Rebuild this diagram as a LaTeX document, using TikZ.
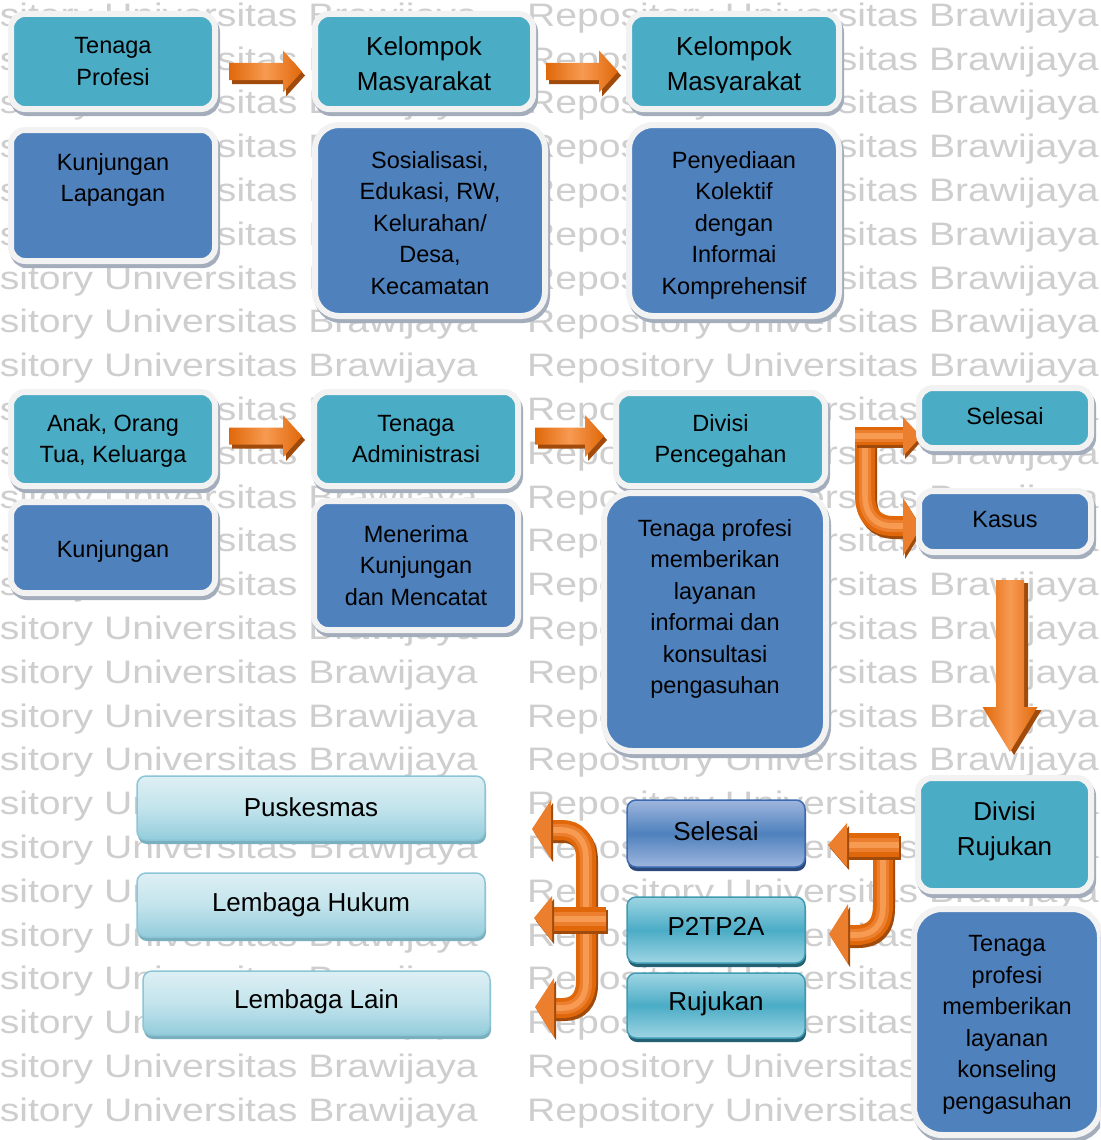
\documentclass[tikz,border=0pt]{standalone}
\usepackage{fontspec}
\setmainfont{Liberation Sans}
\newfontfamily\wmfont[FakeStretch=1.203]{Liberation Sans}
\usetikzlibrary{shadows}
\pgfdeclarelayer{wmlayer}
\pgfdeclarelayer{arrlayer}
\pgfsetlayers{wmlayer,arrlayer,main}
\definecolor{cTeal}{HTML}{4BACC6}
\definecolor{cBlue}{HTML}{4F81BD}
\definecolor{cFrame}{HTML}{F2F2F2}
\definecolor{cFS}{HTML}{A4ADBB}
\definecolor{cOD}{HTML}{E0680A}
\definecolor{cOM}{HTML}{EC7F2E}
\definecolor{cOL}{HTML}{F79A52}
\definecolor{cOS}{HTML}{A04B0B}
\definecolor{cWM}{HTML}{CECECE}
\definecolor{gTealB}{HTML}{3F9AB3}
\definecolor{gTealT}{HTML}{9ED5E3}
\definecolor{gTealS}{HTML}{245F72}
\definecolor{gBlueB}{HTML}{3C6AAE}
\definecolor{gBlueT}{HTML}{9EB6DE}
\definecolor{gBlueS}{HTML}{2A4779}
\definecolor{gLiB}{HTML}{8CC6D6}
\definecolor{gLiT}{HTML}{DDEFF4}
\definecolor{gLiM}{HTML}{C3E4EC}
\definecolor{gLiD}{HTML}{93CCDB}
\definecolor{gLiS}{HTML}{7AAFBF}
\tikzset{
  wmtext/.style={font=\wmfont\fontsize{32.5}{39}\selectfont, text=cWM, inner sep=0pt},
  fbox/.style={draw=cFrame, line width=6pt, inner sep=0pt, align=center,
    font=\fontsize{23.5}{31.5}\selectfont, rounded corners=14pt,
    drop shadow={shadow xshift=2pt, shadow yshift=-4pt, fill=cFS, draw=cFS, line width=6pt, opacity=1}},
  tealbox/.style={fbox, fill=cTeal},
  bluebox/.style={fbox, fill=cBlue},
  bigfont/.style={font=\fontsize{26}{35}\selectfont},
  txt/.style={inner sep=0pt, align=center, font=\fontsize{23.5}{31.5}\selectfont},
  gbox/.style={rounded corners=9pt, line width=1.5pt, inner sep=0pt, align=center,
    font=\fontsize{26}{35}\selectfont},
  gteal/.style={gbox, draw=gTealB, top color=gTealT, bottom color=gTealT, middle color=cTeal,
    drop shadow={shadow xshift=1pt, shadow yshift=-4pt, fill=gTealS, opacity=1}},
  gblue/.style={gbox, draw=gBlueB, top color=gBlueT, bottom color=gBlueT, middle color=cBlue,
    drop shadow={shadow xshift=1pt, shadow yshift=-4pt, fill=gBlueS, opacity=1}},
  glight/.style={gbox, draw=gLiB, top color=gLiT, bottom color=gLiD, middle color=gLiM,
    drop shadow={shadow xshift=1pt, shadow yshift=-4pt, fill=gLiS, opacity=1}},
  ashade/.style={left color=cOD, right color=cOD, middle color=cOL},
  bshadow/.style={draw=cOS, line width=#1, line cap=butt, shift={(2,3)}},
  bmain/.style={draw=cOD, line width=#1, line cap=butt,
    postaction={draw=cOM, line width=0.62*#1}, postaction={draw=cOL, line width=0.28*#1}},
  hshadow/.style={fill=cOS, shift={(2,3)}},
  hmain/.style={fill=cOM},
}
% straight block arrow pointing right: tail x, tip x, centre y
\newcommand\rightblock[3]{%
  \fill[cOS, shift={(3,4)}] (#1,#3-8.5) -- (#2-19,#3-8.5) -- (#2-19,#3-21) -- (#2,#3)
     -- (#2-19,#3+21) -- (#2-19,#3+8.5) -- (#1,#3+8.5) -- cycle;
  \shade[ashade] (#1,#3-8.5) -- (#2-19,#3-8.5) -- (#2-19,#3-21) -- (#2,#3)
     -- (#2-19,#3+21) -- (#2-19,#3+8.5) -- (#1,#3+8.5) -- cycle;}
\begin{document}
\begin{tikzpicture}[x=1pt,y=-1pt]
\useasboundingbox (0,0) rectangle (1100,1140);
\clip (0,0) rectangle (1100,1140);

% watermark
\begin{pgfonlayer}{wmlayer}
\fill[white] (0,0) rectangle (1100,1140);
\foreach \k in {0,...,25}{
  \pgfmathsetmacro\yy{26.3+43.8*\k}
  \node[wmtext, anchor=base east] (wl\k) at (478,\yy) {sitory Universitas Brawijaya};
  \node[wmtext, anchor=base west] (wr\k) at (527,\yy) {Repository Universitas Brawijaya};
}
\end{pgfonlayer}

% framed boxes
\node[tealbox, minimum width=204, minimum height=95] (tp) at (113,61.5) {Tenaga\\Profesi};
\node[bluebox, minimum width=204, minimum height=131] (kl) at (113,195.5) {};
\node[txt, anchor=north] (klt) at (113,153) {Kunjungan\\Lapangan};

\node[tealbox, minimum width=218, minimum height=95] (km1) at (424,61.5) {};
\begin{scope}
\clip (318,17) rectangle (530,92);
\node[txt, bigfont] (km1t) at (424,66) {Kelompok\\Masyarakat};
\end{scope}
\node[bluebox, rounded corners=24pt, minimum width=230, minimum height=191] (sos) at (430,220.5) {};
\node[txt, anchor=north] (sost) at (430,151)
  {Sosialisasi,\\Edukasi, RW,\\Kelurahan/\\Desa,\\Kecamatan};

\node[tealbox, minimum width=210, minimum height=95] (km2) at (734,61.5) {};
\begin{scope}
\clip (632,17) rectangle (836,92);
\node[txt, bigfont] (km2t) at (734,66) {Kelompok\\Masyarakat};
\end{scope}
\node[bluebox, rounded corners=24pt, minimum width=210, minimum height=191] (pen) at (734,220.5) {};
\node[txt, anchor=north] (pent) at (734,151)
  {Penyediaan\\Kolektif\\dengan\\Informai\\Komprehensif};

\node[tealbox, minimum width=204, minimum height=94] (anak) at (113,439) {};
\node[txt] (anakt) at (113,441) {Anak, Orang\\Tua, Keluarga};
\node[bluebox, minimum width=204, minimum height=91] (kun) at (113,547.5) {};
\node[txt] (kunt) at (113,551) {Kunjungan};

\node[tealbox, minimum width=204, minimum height=94] (ta) at (416,439) {Tenaga\\Administrasi};
\node[bluebox, minimum width=204, minimum height=129] (men) at (416,565.5) {Menerima\\Kunjungan\\dan Mencatat};

\node[tealbox, minimum width=209, minimum height=93] (dp) at (720.5,439.5) {};
\node[txt] (dpt) at (720.5,441) {Divisi\\Pencegahan};
\node[bluebox, rounded corners=28pt, minimum width=222, minimum height=258] (tpm) at (715,622) {};
\node[txt, anchor=north] (tpmt) at (715,519)
  {Tenaga profesi\\memberikan\\layanan\\informai dan\\konsultasi\\pengasuhan};

\node[tealbox, minimum width=172, minimum height=60] (sel1) at (1005,418) {};
\node[txt] (sel1t) at (1005,416) {Selesai};
\node[bluebox, minimum width=172, minimum height=61] (kas) at (1005,521.5) {};
\node[txt] (kast) at (1005,519.5) {Kasus};

\node[tealbox, minimum width=173, minimum height=113] (dr) at (1004.5,834.5) {};
\node[txt, bigfont] (drt) at (1004.5,831.5) {Divisi\\Rujukan};
\node[bluebox, rounded corners=28pt, minimum width=186, minimum height=226] (tpk) at (1007,1022) {};
\node[txt] (tpkt) at (1007,1025)
  {Tenaga\\profesi\\memberikan\\layanan\\konseling\\pengasuhan};

% glossy boxes
\node[gblue, minimum width=178, minimum height=67] (sel2) at (716,833.5) {};
\node[txt, bigfont] (sel2t) at (716,831) {Selesai};
\node[gteal, minimum width=178, minimum height=66] (p2) at (716,930) {};
\node[txt, bigfont] (p2t) at (716,926) {P2TP2A};
\node[gteal, minimum width=178, minimum height=65] (ruj) at (716,1005.5) {};
\node[txt, bigfont] (rujt) at (716,1004) {Rujukan};

\node[glight, minimum width=348, minimum height=64] (pus) at (311,808) {};
\node[txt, bigfont] (pust) at (311,807) {Puskesmas};
\node[glight, minimum width=348, minimum height=64] (lh) at (311,905) {};
\node[txt, bigfont] (lht) at (311,905) {Lembaga Hukum};
\node[glight, minimum width=347, minimum height=64] (ll) at (316.5,1003) {};
\node[txt, bigfont] (llt) at (316.5,1002) {Lembaga Lain};

% arrows
\begin{pgfonlayer}{arrlayer}
\rightblock{229}{302}{71.5}
\rightblock{546}{618}{71.5}
\rightblock{229}{302}{436}
\rightblock{535}{604}{436}

% big down arrow
\fill[cOS, shift={(4,3)}] (996,580) -- (1024,580) -- (1024,707) -- (1037.5,707) -- (1010,752)
   -- (982.5,707) -- (996,707) -- cycle;
\shade[ashade] (996,580) -- (1024,580) -- (1024,707) -- (1037.5,707) -- (1010,752)
   -- (982.5,707) -- (996,707) -- cycle;

\def\bA{(855,436) -- (905,436)}
\def\hA{(903,417) -- (921,436.5) -- (903,456) -- cycle}
\def\bB{(865,440) -- (865,495) .. controls (865,515) and (875,526) .. (893,526) -- (905,526)}
\def\hB{(903,498) -- (921,527) -- (903,556) -- cycle}
\draw[bshadow=20] \bB; \draw[bmain=20] \bB;
\fill[hshadow] \hB; \fill[hmain] \hB;
\draw[bshadow=18] \bA; \draw[bmain=18] \bA;
\fill[hshadow] \hA; \fill[hmain] \hA;

\def\bC{(899,845) -- (846,845)}
\def\hC{(847,823) -- (828,845) -- (847,867) -- cycle}
\def\bD{(883,855) -- (883,905) .. controls (883,927) and (872,935) .. (856,935) -- (846,935)}
\def\hD{(848,904) -- (829,934) -- (848,964) -- cycle}
\draw[bshadow=20] \bD; \draw[bmain=20] \bD;
\fill[hshadow] \hD; \fill[hmain] \hD;
\draw[bshadow=24] \bC; \draw[bmain=24] \bC;
\fill[hshadow] \hC; \fill[hmain] \hC;

\def\bE{(606,919) -- (550,919)}
\def\hE{(552,896) -- (534,918) -- (552,941) -- cycle}
\def\bF{(586,910) -- (586,858) .. controls (586,840) and (576,830) .. (562,830) -- (549,830)}
\def\hF{(551,800) -- (532,829) -- (551,859) -- cycle}
\def\bG{(586,928) -- (586,982) .. controls (586,998) and (577,1008) .. (563,1008) -- (552,1008)}
\def\hG{(554,978) -- (535,1007) -- (554,1037) -- cycle}
\draw[bshadow=20] \bF; \draw[bmain=20] \bF;
\fill[hshadow] \hF; \fill[hmain] \hF;
\draw[bshadow=20] \bG; \draw[bmain=20] \bG;
\fill[hshadow] \hG; \fill[hmain] \hG;
\draw[bshadow=24] \bE; \draw[bmain=24] \bE;
\fill[hshadow] \hE; \fill[hmain] \hE;
\end{pgfonlayer}
\end{tikzpicture}
\end{document}
